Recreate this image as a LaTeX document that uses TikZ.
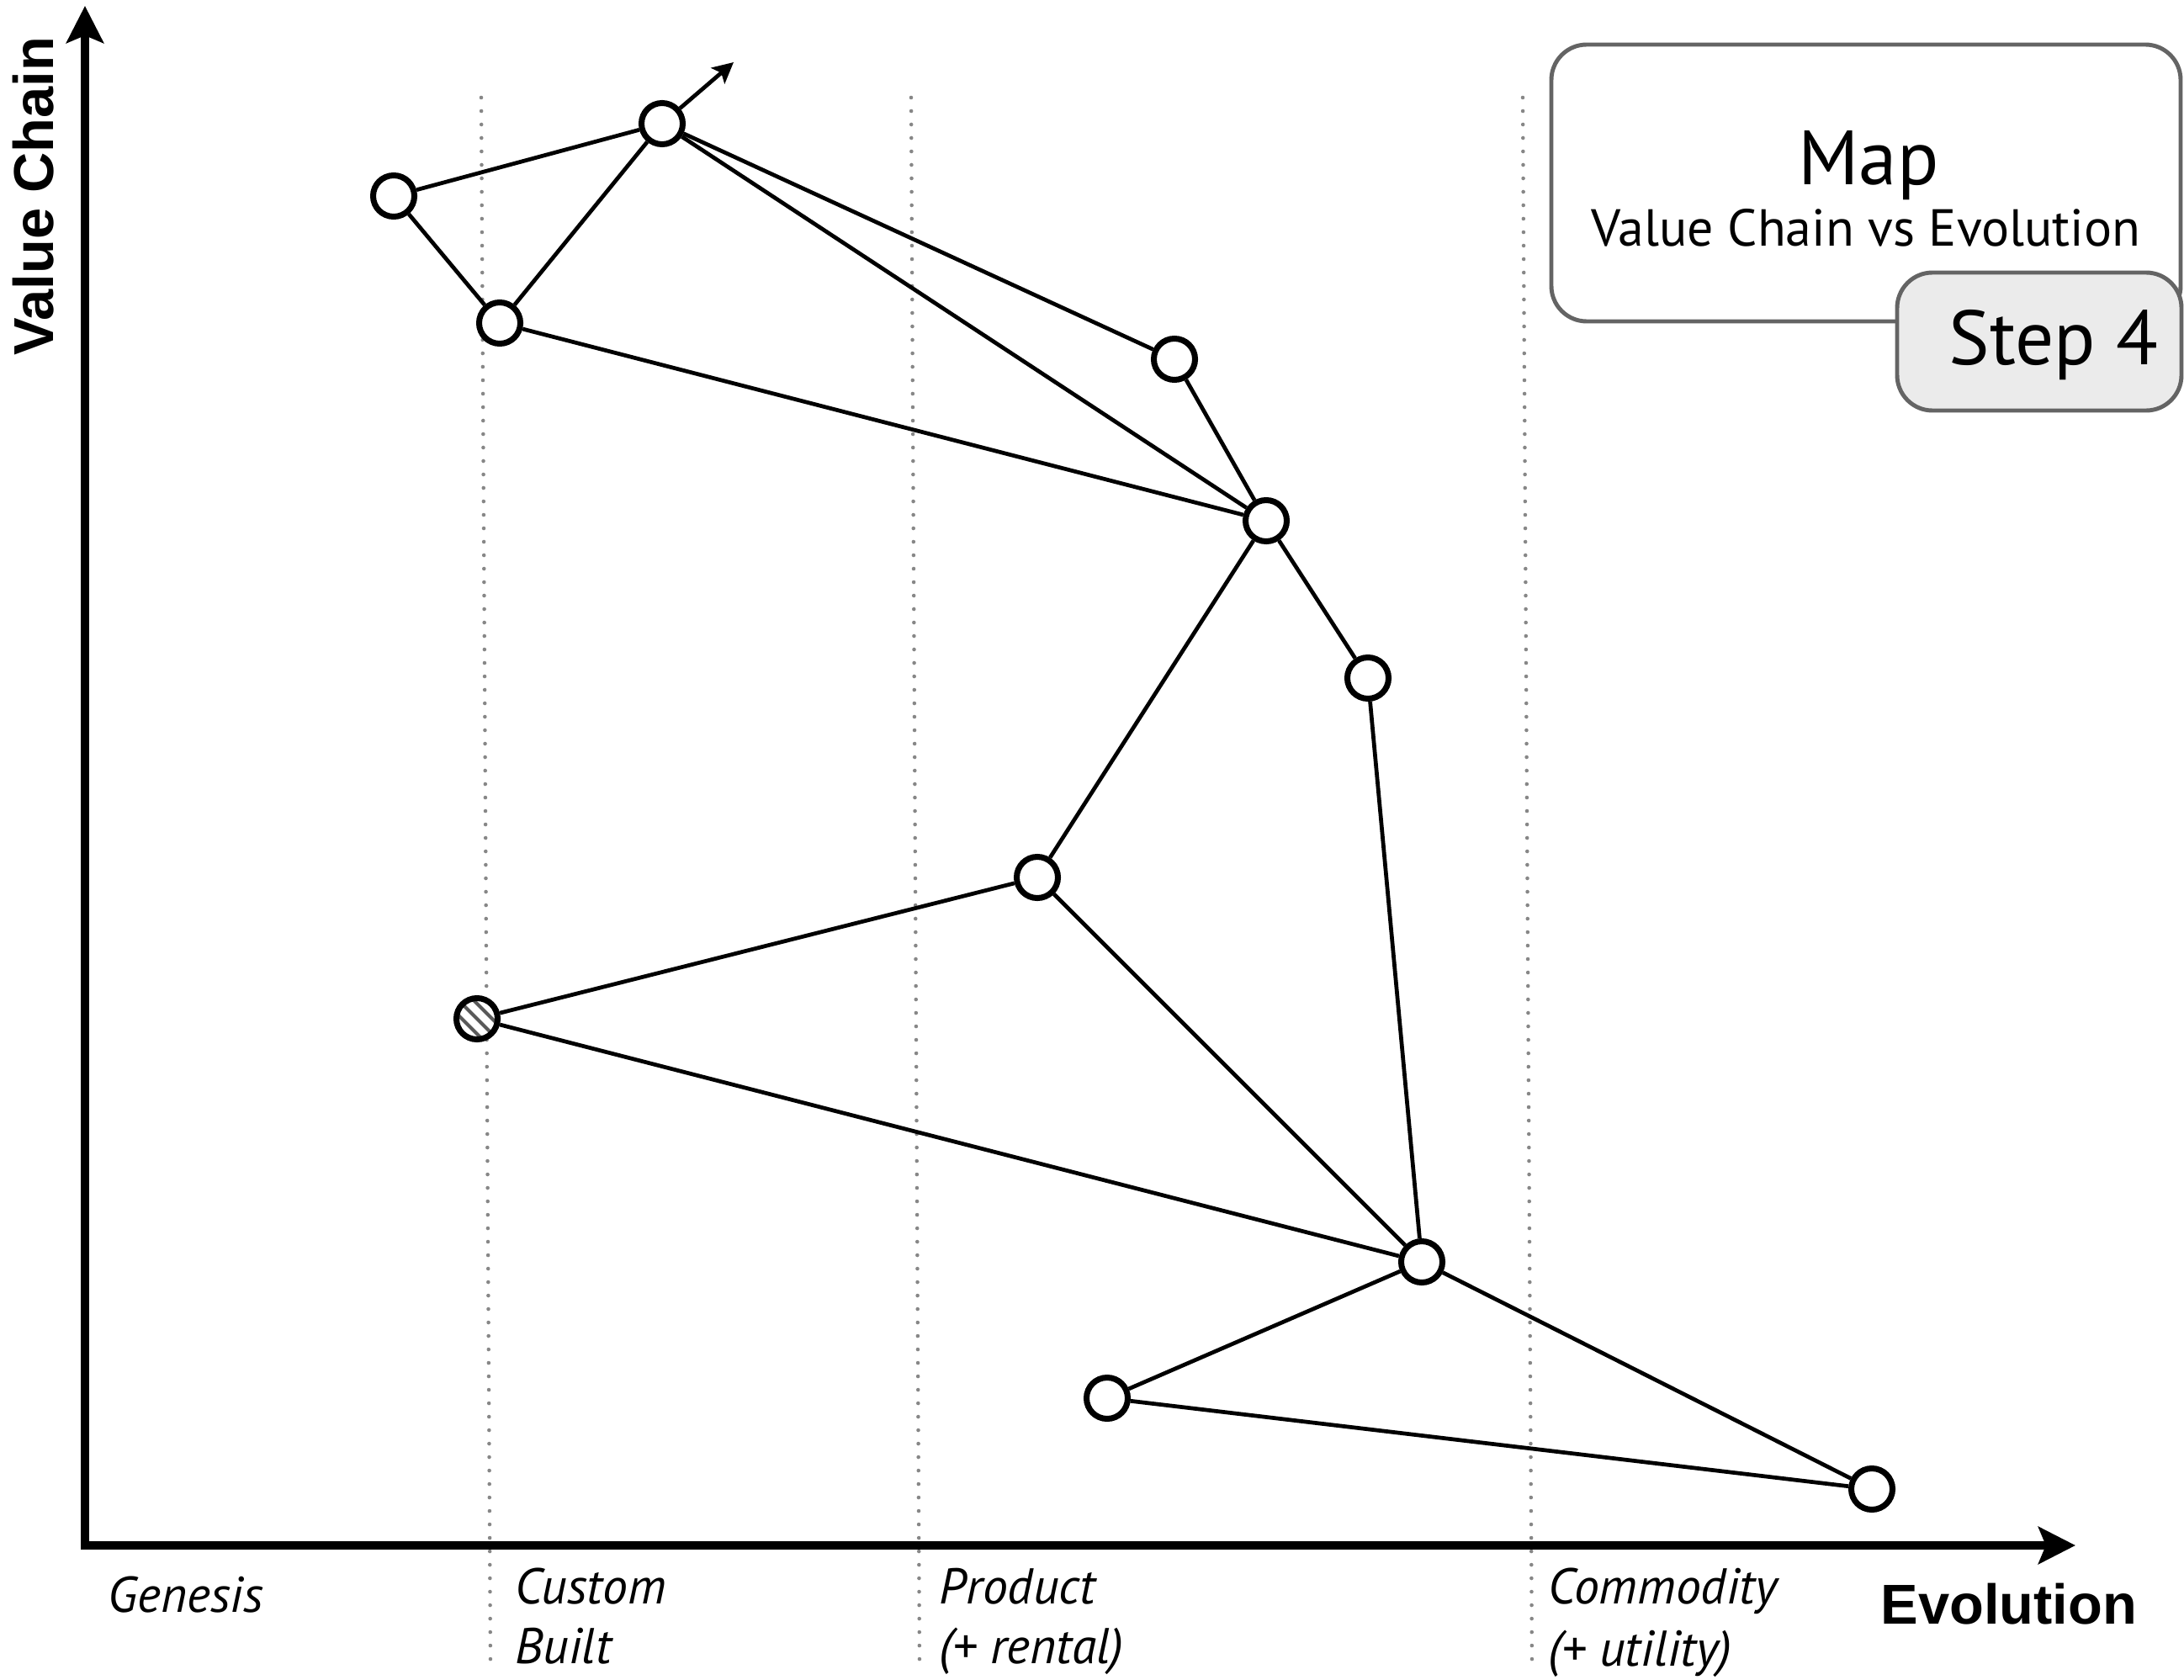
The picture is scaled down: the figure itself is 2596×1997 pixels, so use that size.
\documentclass[tikz,border=0pt]{standalone}
\usepackage{fontspec}
\setmainfont{PT Sans}
\newfontfamily\axisfont{Liberation Sans}
\usetikzlibrary{arrows.meta}
\definecolor{boxgray}{RGB}{100,100,100}
\definecolor{tabfill}{RGB}{235,235,235}
\definecolor{dotgray}{RGB}{135,135,135}
\tikzset{
  comp/.style={circle, draw=black, fill=white, line width=2pt, minimum size=0.49cm, inner sep=0pt},
  hatched/.style={comp, path picture={
      \foreach \k in {-36,-27,...,36}
        \draw[line width=1.2pt, black!65] ([shift={(\k,-\k)}]path picture bounding box.center) ++(-45,-45) -- ++(90,90);}},
  link/.style={line width=1.35pt, black},
  axisline/.style={line width=3pt, black, line join=miter,
      {Stealth[length=12.5pt, width=12.5pt, inset=2.5pt]}-{Stealth[length=12.5pt, width=12.5pt, inset=2.5pt]}},
  phase/.style={dotgray, line width=1.3pt, line cap=round, dash pattern=on 0pt off 4.55pt},
  boxline/.style={draw=boxgray, line width=1.4pt, rounded corners=0.42cm},
  stagelabel/.style={anchor=base west, inner sep=0pt, font=\fontsize{17}{20}\selectfont\itshape},
  axislabel/.style={inner sep=0pt, font=\axisfont\bfseries\fontsize{19}{22}\selectfont},
}
\begin{document}
\begin{tikzpicture}[x=0.01cm, y=-0.01cm]
  \path[use as bounding box] (0,0) rectangle (2596,1997);
  \clip (0,0) rectangle (2596,1997);

  % evolution stage separators
  \draw[phase] (572,116) -- (583,1980);
  \draw[phase] (1083,116) -- (1093,1980);
  \draw[phase] (1810,116) -- (1821,1980);

  % axes
  \coordinate (ytop) at (101,7);
  \coordinate (origin) at (101,1837);
  \coordinate (xend) at (2467,1837);
  \draw[axisline] (ytop) -- (origin) -- (xend);

  % axis titles
  \node[axislabel, rotate=90, anchor=base] (vclabel) at (63,233) {Value Chain};
  \node[axislabel, anchor=base west] (evlabel) at (2235,1930) {Evolution};

  % stage labels
  \node[stagelabel] (genesis) at (128,1916) {Genesis};
  \node[stagelabel] (custom) at (612,1906) {Custom};
  \node[stagelabel] (built) at (612,1977) {Built};
  \node[stagelabel] (product) at (1116,1906) {Product};
  \node[stagelabel] (rental) at (1116,1977) {(+ rental)};
  \node[stagelabel] (commodity) at (1840,1906) {Commodity};
  \node[stagelabel] (utility) at (1840,1980) {(+ utility)};

  % title panel
  \draw[boxline, fill=white] (1844,53) rectangle (2592,382);
  \node[anchor=base, inner sep=0pt, font=\fontsize{26}{30}\selectfont] (maptitle) at (2221,220) {Map};
  \node[anchor=base, inner sep=0pt, font=\fontsize{17.6}{22}\selectfont] (mapsub) at (2218,292) {Value Chain vs Evolution};
  \draw[boxline, fill=tabfill] (2255,324) rectangle (2593,488);
  \node[anchor=base, inner sep=0pt, font=\fontsize{26}{30}\selectfont] (steptag) at (2441,433) {Step 4};

  % components
  \node[comp] (A) at (468,233) {};
  \node[comp] (B) at (787,147) {};
  \node[comp] (C) at (594,384) {};
  \node[comp] (D) at (1396,427) {};
  \node[comp] (E) at (1505,619) {};
  \node[comp] (F) at (1626,806) {};
  \node[comp] (G) at (1233,1043) {};
  \node[hatched] (H) at (567,1211) {};
  \node[comp] (I) at (1690,1500) {};
  \node[comp] (J) at (1316,1662) {};
  \node[comp] (K) at (2225,1770) {};
  \coordinate (Bmove) at (872,74);

  % dependencies
  \draw[link] (A) -- (B);
  \draw[link] (A) -- (C);
  \draw[link] (C) -- (B);
  \draw[link] (B) -- (D);
  \draw[link] (B) -- (E);
  \draw[link] (C) -- (E);
  \draw[link] (D) -- (E);
  \draw[link] (E) -- (F);
  \draw[link] (E) -- (G);
  \draw[link] (G) -- (H);
  \draw[link] (G) -- (I);
  \draw[link] (H) -- (I);
  \draw[link] (F) -- (I);
  \draw[link] (I) -- (J);
  \draw[link] (I) -- (K);
  \draw[link] (J) -- (K);
  \draw[link, -{Stealth[length=7pt, width=7pt, inset=1.5pt]}] (B) -- (Bmove);
\end{tikzpicture}
\end{document}
